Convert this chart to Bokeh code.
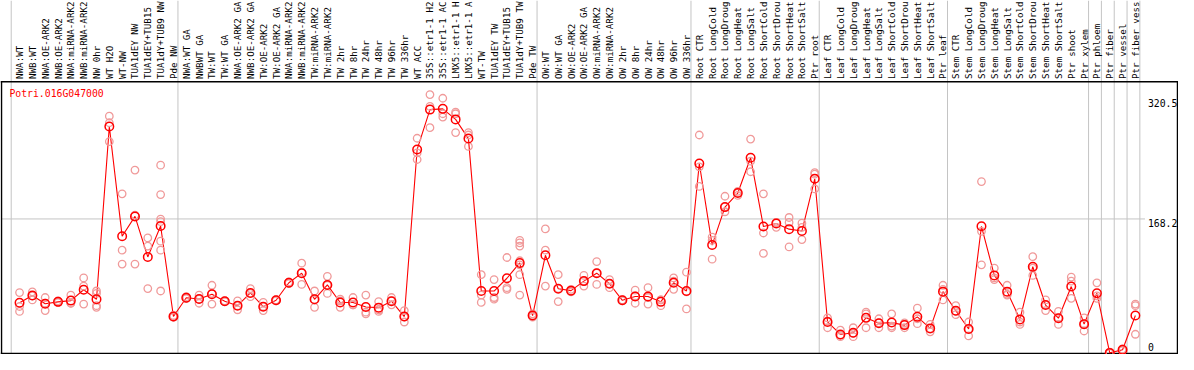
import numpy as np
from bokeh.plotting import figure
from bokeh.models import Range1d
from bokeh.embed import file_html
from bokeh.resources import INLINE
from bokeh.core.properties import value

# ---------------- data ----------------
title_text = "Potri.016G047000"

g_nw = ["NWA:WT", "NWB:WT", "NWA:OE-ARK2", "NWB:OE-ARK2", "NWA:miRNA-ARK2",
        "NWB:miRNA-ARK2", "NW 0hr", "WT H2O", "WT-NW", "TUA1dEY NW",
        "TUA1dEY+TUB15", "TUA1dY+TUB9 NW", "Pde NW"]
g_tw = ["NWA:WT GA", "NWBWT GA", "TW:WT", "TW:WT GA", "NWA:OE-ARK2 GA",
        "NWB:OE-ARK2 GA", "TW:OE-ARK2", "TW:OE-ARK2 GA", "NWA:miRNA-ARK2",
        "NWB:miRNA-ARK2", "TW:miRNA-ARK2", "TW:miRNA-ARK2", "TW 2hr", "TW 8hr",
        "TW 24hr", "TW 48hr", "TW 96hr", "TW 336hr", "WT ACC", "35S::etr1-1 H2",
        "35S::etr1-1 AC", "LMX5::etr1-1 H", "LMX5::etr1-1 A", "WT-TW",
        "TUA1dEY TW", "TUA1dEY+TUB15", "TUA1dY+TUB9 TW", "Pde TW"]
g_ow = ["OW:WT", "OW:WT GA", "OW:OE-ARK2", "OW:OE-ARK2 GA", "OW:miRNA-ARK2",
        "OW:miRNA-ARK2", "OW 2hr", "OW 8hr", "OW 24hr", "OW 48hr", "OW 96hr",
        "OW 336hr"]
g_root = ["Root CTR", "Root LongCold", "Root LongDroug", "Root LongHeat",
          "Root LongSalt", "Root ShortCold", "Root ShortDrou", "Root ShortHeat",
          "Root ShortSalt", "Ptr root"]
g_leaf = ["Leaf CTR", "Leaf LongCold", "Leaf LongDroug", "Leaf LongHeat",
          "Leaf LongSalt", "Leaf ShortCold", "Leaf ShortDrou", "Leaf ShortHeat",
          "Leaf ShortSalt", "Ptr leaf"]
g_stem = ["Stem CTR", "Stem LongCold", "Stem LongDroug", "Stem LongHeat",
          "Stem LongSalt", "Stem ShortCold", "Stem ShortDrou", "Stem ShortHeat",
          "Stem ShortSalt", "Ptr shoot", "Ptr xylem"]
g_phloem = ["Ptr phloem"]
g_fiber = ["Ptr fiber"]
g_vessel = ["Ptr vessel"]
g_fv = ["Ptr fiber vess"]

groups = [g_nw, g_tw, g_ow, g_root, g_leaf, g_stem, g_phloem, g_fiber, g_vessel, g_fv]

means = [65.5, 74.5, 64.3, 66.7, 68.2, 81.5, 69.8, 281.4, 147.1, 171.3, 121.7, 159.6, 48.7,
         71.7, 70.2, 76.0, 67.5, 62.0, 77.6, 60.8, 68.6, 90.1, 101.8, 69.8, 87.4, 65.9, 65.9,
         60.4, 59.6, 67.5, 48.7, 253.3, 302.1, 303.0, 290.1, 266.6, 79.9, 79.9, 95.6, 114.3, 49.9,
         123.7, 82.7, 80.4, 92.1, 101.8, 88.9, 68.6, 73.3, 73.3, 66.7, 90.1, 79.9,
         236.1, 136.2, 182.7, 199.9, 243.2, 158.9, 162.7, 155.7, 153.4, 217.4,
         42.1, 26.8, 28.8, 47.1, 40.5, 41.3, 38.2, 48.3, 34.2, 79.2,
         55.8, 33.5, 159.2, 99.1, 79.2, 45.2, 109.7, 62.8, 46.7, 85.4, 39.4,
         77.2, 4.2, 8.1, 49.9]

replicates = [
    [78, 61, 55], [79, 74, 69], [72, 65, 56], [68, 66, 66], [75, 65, 65],
    [96, 86, 64], [80, 77, 62, 60], [294, 286, 263], [199, 130, 113], [228, 173, 113],
    [145, 135, 83], [234, 198, 168, 165, 141, 130, 80], [50, 48, 48],
    [73, 71, 71], [75, 70, 65], [87, 77, 64], [68, 67, 67], [68, 62, 57],
    [83, 77, 73], [66, 61, 56], [69, 68, 69], [91, 90, 89], [114, 103, 88],
    [80, 69, 60], [98, 87, 77], [70, 68, 60], [72, 63, 63], [75, 54, 52],
    [67, 57, 55], [72, 68, 63], [56, 48, 42], [267, 249, 241], [320.5, 306, 280],
    [316, 297, 293], [299, 297, 274], [274, 271, 257], [100, 75, 66], [94, 72, 70],
    [121, 84, 82], [142, 139, 135, 117, 112, 100, 75], [52, 50, 48],
    [156, 130, 86], [100, 83, 67], [82, 80, 79], [99, 92, 86], [116, 102, 88],
    [94, 89, 84], [69, 68, 69], [81, 74, 65], [84, 72, 64], [69, 69, 62],
    [96, 92, 82], [103, 79, 58],
    [271, 232, 208], [146, 142, 119], [196, 183, 177], [202, 200, 197],
    [266, 239, 226], [199, 151, 126], [164, 164, 158], [170, 164, 134],
    [163, 158, 143], [225, 223, 205],
    [47, 43, 35], [32, 26, 24], [35, 28, 24], [54, 52, 35], [46, 41, 35],
    [52, 37, 35], [41, 39, 35], [59, 46, 40], [39, 34, 30], [87, 82, 69],
    [62, 55, 51], [42, 33, 25], [214, 153, 112], [108, 96, 94], [87, 76, 75],
    [54, 42, 39], [122, 108, 99], [69, 63, 56], [55, 47, 39], [97, 92, 71],
    [47, 40, 31],
    [90, 74, 71], [5, 4, 4], [9, 8, 7], [64, 62, 27]]

tick_values = [320.5, 168.2, 0]
tick_labels = ["320.5", "168.2", "0"]
grid_values = [168.2]

# ---------------- layout (reference pixel geometry) ----------------
REF_W, REF_H = 1194, 370
W, H = 1178, 354
PX0, DX = 19.3, 13.0       # px of first category centre, px per category
Y0, K = 371.9, 0.8536      # px of value 0, px per unit


def xd(px):
    return (px - PX0) / DX


def yd(py):
    return (Y0 - py) / K


cats = [c for g in groups for c in g]
idx = list(range(len(cats)))
group_starts = list(np.cumsum([0] + [len(g) for g in groups]))

rep_x = [i for i, r in enumerate(replicates) for _ in r]
rep_y = [v for r in replicates for v in r]

p = figure(width=W, height=H, x_range=Range1d(xd(0), xd(REF_W)),
           y_range=Range1d(yd(REF_H), yd(0)), output_backend="svg",
           toolbar_location=None, min_border=0,
           x_axis_location=None, y_axis_location=None)
p.grid.visible = False
p.outline_line_color = None
p.background_fill_color = "white"
p.border_fill_color = "white"

# group separators
sep_x = [g - 0.65 for g in group_starts]
p.segment(x0=sep_x, y0=[yd(REF_H)] * len(sep_x), x1=sep_x, y1=[yd(0)] * len(sep_x),
          line_color="#C4C4C4", line_width=1)
# horizontal grid
p.segment(x0=[xd(1)] * len(grid_values), y0=grid_values,
          x1=[xd(1160)] * len(grid_values), y1=grid_values,
          line_color="#C4C4C4", line_width=1)

# frame
p.segment(x0=[xd(0)], y0=[yd(85)], x1=[xd(REF_W)], y1=[yd(85)], line_color="black", line_width=1.5)
p.segment(x0=[xd(0)], y0=[yd(369)], x1=[xd(REF_W)], y1=[yd(369)], line_color="black", line_width=1.5)
p.segment(x0=[xd(1), xd(1193)], y0=[yd(85)] * 2, x1=[xd(1), xd(1193)], y1=[yd(369)] * 2,
          line_color="black", line_width=1.5)

# data
p.line(x=idx, y=means, line_color="#FF0000", line_width=1.1)
p.scatter(x=rep_x, y=rep_y, marker="circle", size=7.5, fill_color=None,
          line_color="#F09A9A", line_width=1.3)
p.scatter(x=idx, y=means, marker="circle", size=8.5, fill_color=None,
          line_color="#FF0000", line_width=1.5)

# category labels
p.text(x=idx, y=[yd(82)] * len(cats), text=cats, angle=np.pi / 2,
       text_align="left", text_baseline="middle",
       text_font=value("DejaVu Sans Mono"), text_font_size="9.2px", text_color="black")

# title
p.text(x=[xd(9)], y=[yd(97)], text=[title_text], text_align="left", text_baseline="middle",
       text_font=value("DejaVu Sans Mono"), text_font_size="9.8px", text_color="#FF0000")

# value labels on the right
lab_y = [min(max(t, yd(358)), yd(103)) for t in tick_values]
p.text(x=[xd(1163)] * len(tick_values), y=lab_y, text=tick_labels,
       text_align="left", text_baseline="top",
       text_font=value("DejaVu Sans Mono"), text_font_size="9.8px", text_color="black")

open("out.html", "w").write(file_html(p, INLINE))
